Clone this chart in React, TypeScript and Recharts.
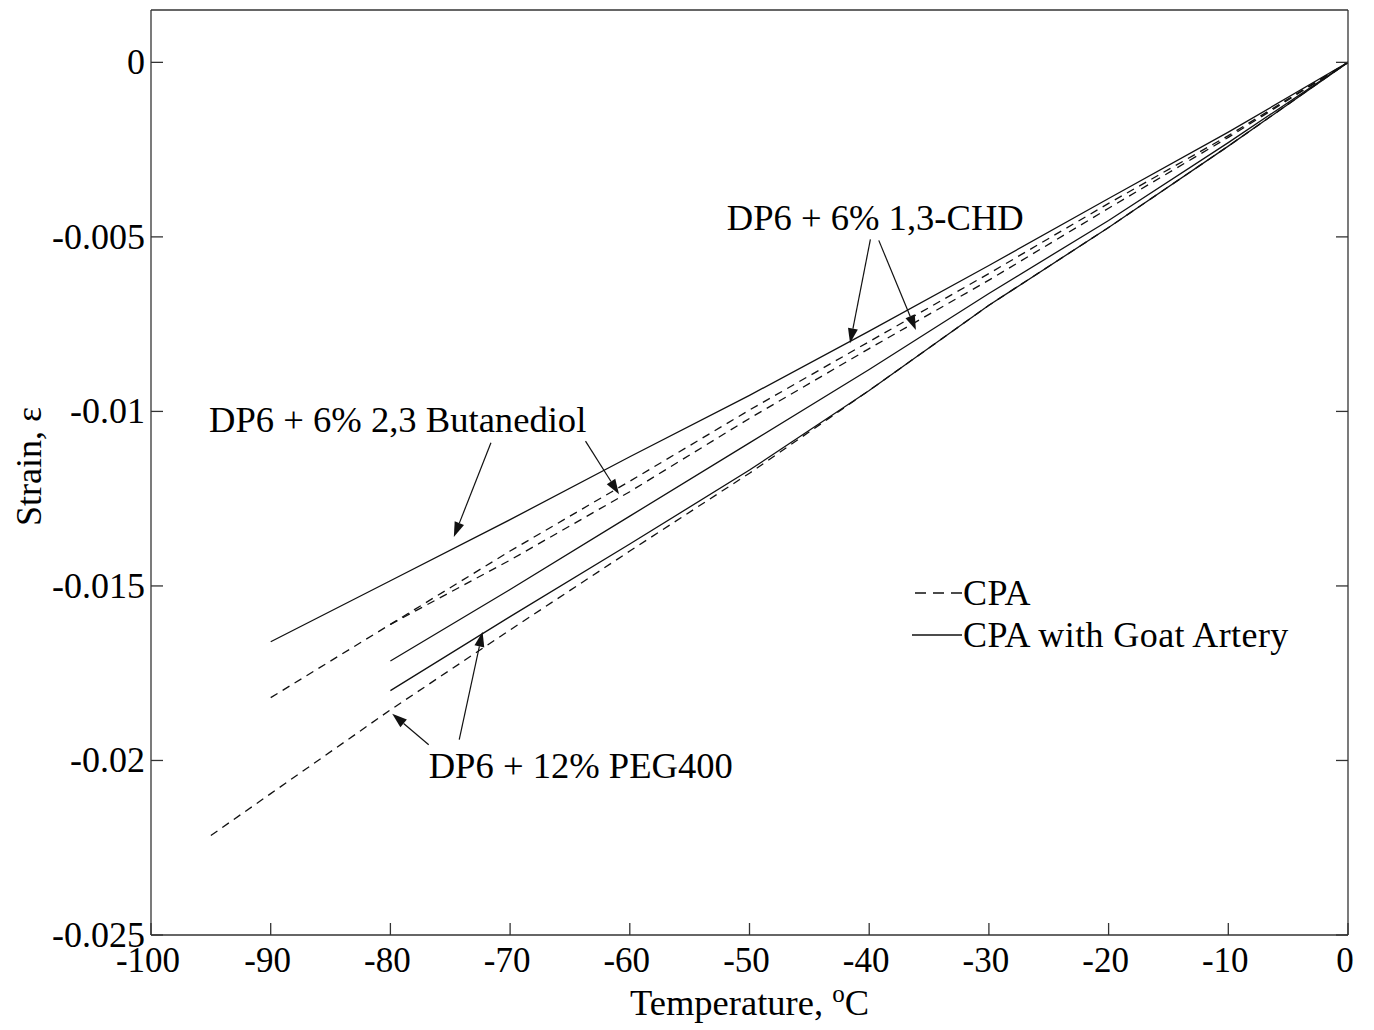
import { Legend, Line, LineChart, ReferenceDot, ReferenceLine, XAxis, YAxis } from "recharts";

type StrainPoint = { t: number; s: number };

const tempTicks = [-100, -90, -80, -70, -60, -50, -40, -30, -20, -10, 0];
const strainTicks = [0, -0.005, -0.01, -0.015, -0.02, -0.025];

// CPA only (dashed)
const butanediolCpa: StrainPoint[] = [
  { t: -90, s: -0.0182 },
  { t: -80, s: -0.0161 },
  { t: -70, s: -0.014 },
  { t: -60, s: -0.012 },
  { t: -50, s: -0.00996 },
  { t: -40, s: -0.008 },
  { t: -30, s: -0.00605 },
  { t: -20, s: -0.00404 },
  { t: -10, s: -0.0021 },
  { t: 0, s: 0 },
];

const chdCpa: StrainPoint[] = [
  { t: -80, s: -0.0161 },
  { t: -70, s: -0.01426 },
  { t: -60, s: -0.0123 },
  { t: -50, s: -0.0102 },
  { t: -40, s: -0.0082 },
  { t: -30, s: -0.00624 },
  { t: -20, s: -0.00418 },
  { t: -10, s: -0.00215 },
  { t: 0, s: 0 },
];

const pegCpa: StrainPoint[] = [
  { t: -95, s: -0.02215 },
  { t: -90, s: -0.02095 },
  { t: -80, s: -0.01855 },
  { t: -70, s: -0.01626 },
  { t: -60, s: -0.014 },
  { t: -50, s: -0.01177 },
  { t: -40, s: -0.0094 },
  { t: -30, s: -0.00696 },
  { t: -20, s: -0.00473 },
  { t: -10, s: -0.0024 },
  { t: 0, s: 0 },
];

// CPA with goat artery (solid)
const butanediolGoat: StrainPoint[] = [
  { t: -90, s: -0.0166 },
  { t: -80, s: -0.01485 },
  { t: -70, s: -0.0131 },
  { t: -60, s: -0.0113 },
  { t: -50, s: -0.00954 },
  { t: -40, s: -0.0077 },
  { t: -30, s: -0.00582 },
  { t: -20, s: -0.0039 },
  { t: -10, s: -0.002 },
  { t: 0, s: 0 },
];

const chdGoat: StrainPoint[] = [
  { t: -80, s: -0.01715 },
  { t: -70, s: -0.0151 },
  { t: -60, s: -0.013 },
  { t: -50, s: -0.0109 },
  { t: -40, s: -0.0088 },
  { t: -30, s: -0.00662 },
  { t: -20, s: -0.00453 },
  { t: -10, s: -0.0023 },
  { t: 0, s: 0 },
];

const pegGoat: StrainPoint[] = [
  { t: -80, s: -0.018 },
  { t: -70, s: -0.01588 },
  { t: -60, s: -0.0138 },
  { t: -50, s: -0.01168 },
  { t: -40, s: -0.0094 },
  { t: -30, s: -0.00696 },
  { t: -20, s: -0.00473 },
  { t: -10, s: -0.0024 },
  { t: 0, s: 0 },
];

const series = [
  { id: "butanediolCpa", name: "CPA", data: butanediolCpa, dashed: true },
  { id: "chdCpa", name: "CPA", data: chdCpa, dashed: true },
  { id: "pegCpa", name: "CPA", data: pegCpa, dashed: true },
  { id: "butanediolGoat", name: "CPA with Goat Artery", data: butanediolGoat, dashed: false },
  { id: "chdGoat", name: "CPA with Goat Artery", data: chdGoat, dashed: false },
  { id: "pegGoat", name: "CPA with Goat Artery", data: pegGoat, dashed: false },
];

// annotation arrows, in data coordinates (tail -> head)
const arrows = [
  { from: { t: -71.6, s: -0.0109 }, to: { t: -74.7, s: -0.0136 } },
  { from: { t: -63.7, s: -0.01085 }, to: { t: -60.9, s: -0.01237 } },
  { from: { t: -39.9, s: -0.00507 }, to: { t: -41.6, s: -0.00805 } },
  { from: { t: -39.2, s: -0.0051 }, to: { t: -36.1, s: -0.00767 } },
  { from: { t: -74.25, s: -0.0194 }, to: { t: -72.3, s: -0.01631 } },
  { from: { t: -76.8, s: -0.01955 }, to: { t: -79.85, s: -0.01866 } },
];

const notes = [
  { text: "DP6 + 6% 2,3 Butanediol", t: -95.15, s: -0.0106 },
  { text: "DP6 + 6% 1,3-CHD", t: -51.9, s: -0.0048 },
  { text: "DP6 + 12% PEG400", t: -76.8, s: -0.0205 },
];

const font = '"Liberation Serif", "Times New Roman", serif';
const axisColor = "#333";
const ink = "#111";
const tickLen = 12;

function BottomTick({ x, y, payload }: any) {
  return (
    <g>
      <line x1={x} y1={y} x2={x} y2={y - tickLen} stroke={axisColor} strokeWidth={1.3} />
      <text x={x - 3} y={y + 37} textAnchor="middle" fontFamily={font} fontSize={35} fill="#000">
        {payload.value}
      </text>
    </g>
  );
}

function TopTick({ x, y }: any) {
  return <line x1={x} y1={y} x2={x} y2={y + tickLen} stroke={axisColor} strokeWidth={1.3} />;
}

function LeftTick({ x, y, payload }: any) {
  return (
    <g>
      <line x1={x} y1={y} x2={x + tickLen} y2={y} stroke={axisColor} strokeWidth={1.3} />
      <text x={x - 6} y={y + 12} textAnchor="end" fontFamily={font} fontSize={36} fill="#000">
        {String(payload.value)}
      </text>
    </g>
  );
}

function RightTick({ x, y }: any) {
  return <line x1={x} y1={y} x2={x - tickLen} y2={y} stroke={axisColor} strokeWidth={1.3} />;
}

function XTitle({ viewBox }: any) {
  const cx = viewBox.x + viewBox.width / 2;
  return (
    <text x={cx} y={viewBox.y + 80} textAnchor="middle" fontFamily={font} fontSize={36.5} fill="#000">
      Temperature,{" "}
      <tspan fontSize={25} dy={-13}>
        o
      </tspan>
      <tspan dy={13}>C</tspan>
    </text>
  );
}

function YTitle({ viewBox }: any) {
  const cy = viewBox.y + viewBox.height / 2 - 6;
  return (
    <text
      x={41}
      y={cy}
      transform={`rotate(-90, 41, ${cy})`}
      textAnchor="middle"
      fontFamily={font}
      fontSize={36}
      fill="#000"
    >
      Strain, ε
    </text>
  );
}

function Arrow(p: any) {
  const { x1, y1, x2, y2 } = p;
  const dx = x2 - x1;
  const dy = y2 - y1;
  const len = Math.hypot(dx, dy) || 1;
  const ux = dx / len;
  const uy = dy / len;
  const head = 15;
  const half = 5;
  const bx = x2 - ux * head;
  const by = y2 - uy * head;
  const pts = `${x2},${y2} ${bx - uy * half},${by + ux * half} ${bx + uy * half},${by - ux * half}`;
  return (
    <g>
      <line x1={x1} y1={y1} x2={bx} y2={by} stroke={ink} strokeWidth={1.2} />
      <polygon points={pts} fill={ink} />
    </g>
  );
}

function LegendBox({ payload }: any) {
  const seen = new Set<string>();
  const items = (payload ?? []).filter((p: any) => {
    if (seen.has(p.value)) return false;
    seen.add(p.value);
    return true;
  });
  return (
    <svg width={420} height={90}>
      {items.map((item: any, i: number) => {
        const y = 23 + i * 42;
        const dashed = item.value === "CPA";
        return (
          <g key={item.value}>
            <line
              x1={dashed ? 3 : 0}
              y1={y}
              x2={50}
              y2={y}
              stroke={ink}
              strokeWidth={1.3}
              strokeDasharray={dashed ? "11 7" : undefined}
            />
            <text x={51} y={y + 12} fontFamily={font} fontSize={36} letterSpacing={0.4} fill="#000">
              {item.value}
            </text>
          </g>
        );
      })}
    </svg>
  );
}

export default function App() {
  return (
    <div style={{ position: "absolute", left: 0, top: 0, background: "#fff" }}>
      <LineChart width={1374} height={1030} margin={{ top: 0, right: 0, bottom: 0, left: 0 }}>
        <XAxis
          dataKey="t"
          type="number"
          domain={[-100, 0]}
          ticks={tempTicks}
          allowDataOverflow
          height={95}
          tickSize={0}
          tickMargin={0}
          tickLine={false}
          tick={<BottomTick />}
          interval={0}
          stroke={axisColor}
          strokeWidth={1.3}
          label={<XTitle />}
        />
        <XAxis
          xAxisId="top"
          orientation="top"
          type="number"
          domain={[-100, 0]}
          ticks={tempTicks}
          allowDataOverflow
          height={10}
          tickSize={0}
          tickMargin={0}
          tickLine={false}
          tick={<TopTick />}
          interval={0}
          stroke={axisColor}
          strokeWidth={1.3}
        />
        <YAxis
          type="number"
          domain={[-0.025, 0.0015]}
          ticks={strainTicks}
          allowDataOverflow
          width={151}
          tickSize={0}
          tickMargin={0}
          tickLine={false}
          tick={<LeftTick />}
          interval={0}
          stroke={axisColor}
          strokeWidth={1.3}
          label={<YTitle />}
        />
        <YAxis
          yAxisId="right"
          orientation="right"
          type="number"
          domain={[-0.025, 0.0015]}
          ticks={strainTicks}
          allowDataOverflow
          width={26}
          tickSize={0}
          tickMargin={0}
          tickLine={false}
          tick={<RightTick />}
          interval={0}
          stroke={axisColor}
          strokeWidth={1.3}
        />
        {series.map((s) => (
          <Line
            key={s.id}
            data={s.data}
            dataKey="s"
            name={s.name}
            type="linear"
            stroke={ink}
            strokeWidth={1.3}
            strokeDasharray={s.dashed ? "8 6" : undefined}
            dot={false}
            activeDot={false}
            isAnimationActive={false}
          />
        ))}
        {arrows.map((a, i) => (
          <ReferenceLine
            key={`arrow-${i}`}
            segment={[
              { x: a.from.t, y: a.from.s },
              { x: a.to.t, y: a.to.s },
            ]}
            shape={<Arrow />}
          />
        ))}
        {notes.map((n) => (
          <ReferenceDot
            key={n.text}
            x={n.t}
            y={n.s}
            r={0}
            shape={(p: any) => (
              <text x={p.cx} y={p.cy} fontFamily={font} fontSize={36.6} fill="#000">
                {n.text}
              </text>
            )}
          />
        ))}
        <Legend
          layout="vertical"
          align="center"
          verticalAlign="middle"
          content={<LegendBox />}
          wrapperStyle={{ position: "absolute", left: 912, top: 570, width: 420, height: 90 }}
        />
      </LineChart>
    </div>
  );
}
